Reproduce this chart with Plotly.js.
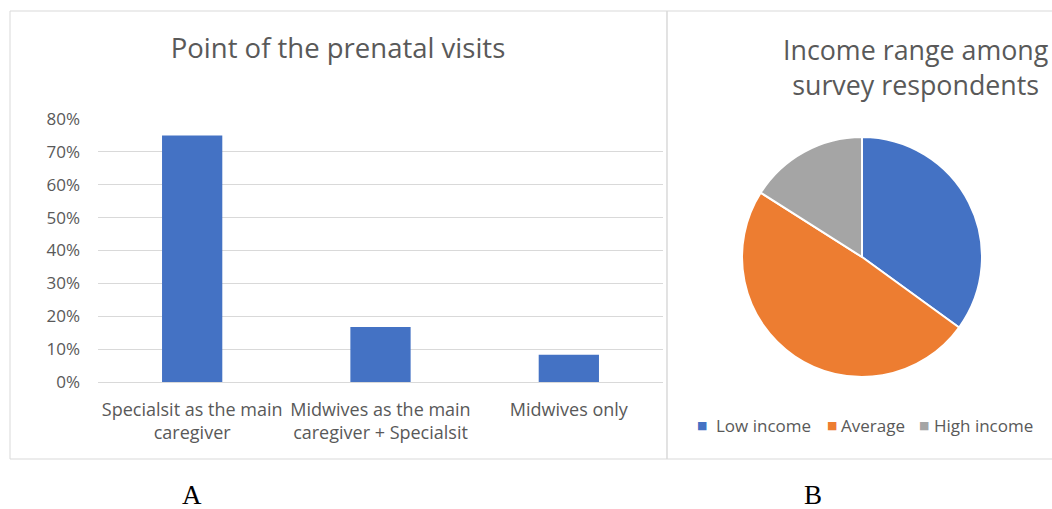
<!DOCTYPE html>
<html>
<head>
<meta charset="utf-8">
<script src="https://cdn.plot.ly/plotly-3.0.1.min.js"></script>
<style>
  html, body { margin: 0; padding: 0; background: #ffffff; overflow: hidden; }
  #chart { width: 1052px; height: 509px; overflow: hidden; }
</style>
</head>
<body>
<div id="chart"></div>
<script>
// ---- Data ----
const barCategories = [
  "Specialsit as the main<br>caregiver",
  "Midwives as the main<br>caregiver + Specialsit",
  "Midwives only"
];
const barValues = [0.75, 0.167, 0.083];
const barTitle = "Point of the prenatal visits";

const pieLabels = ["Low income", "Average", "High income"];
const pieValues = [35, 49, 16];
const pieColors = ["#4472C4", "#ED7D31", "#A5A5A5"];
const pieTitle = "Income range among<br>survey respondents";

const panelLabels = ["A", "B"];

// ---- Layout helpers (pixel -> paper) ----
const W = 1052, H = 509;
const px = v => v / W;
const py = v => 1 - v / H;

const font = "Open Sans, sans-serif";
const grey = "#595959";

// legend entry positions (layout only)
const legendSwatchX = [702, 832, 924];
const legendTextX = [714, 839, 932];
const legendY = 425;

const barTrace = {
  type: "bar",
  x: barCategories,
  y: barValues,
  marker: { color: "#4472C4" },
  showlegend: false,
  hoverinfo: "x+y",
  xaxis: "x",
  yaxis: "y"
};

const pieTrace = {
  type: "pie",
  labels: pieLabels,
  values: pieValues,
  marker: { colors: pieColors, line: { color: "#ffffff", width: 2 } },
  sort: false,
  direction: "clockwise",
  rotation: 0,
  textinfo: "none",
  domain: { x: [px(742), px(982)], y: [py(377), py(137)] },
  showlegend: false
};

const annotations = [
  {
    text: pieTitle,
    xref: "paper", yref: "paper",
    x: px(916), y: py(67),
    xanchor: "center", yanchor: "middle",
    showarrow: false,
    font: { family: font, size: 26.8, color: grey }
  },
  {
    text: panelLabels[0],
    xref: "paper", yref: "paper",
    x: px(192), y: py(495),
    xanchor: "center", yanchor: "middle",
    showarrow: false,
    font: { family: "Liberation Serif, serif", size: 27, color: "#000000" }
  },
  {
    text: panelLabels[1],
    xref: "paper", yref: "paper",
    x: px(813), y: py(495),
    xanchor: "center", yanchor: "middle",
    showarrow: false,
    font: { family: "Liberation Serif, serif", size: 27, color: "#000000" }
  }
];

// legend for the pie, built from its labels and colours
pieLabels.forEach((lab, i) => {
  annotations.push({
    text: "■",
    xref: "paper", yref: "paper",
    x: px(legendSwatchX[i]), y: py(legendY),
    xanchor: "center", yanchor: "middle",
    showarrow: false,
    font: { family: "DejaVu Sans, sans-serif", size: 11, color: pieColors[i] }
  });
  annotations.push({
    text: lab,
    xref: "paper", yref: "paper",
    x: px(legendTextX[i]), y: py(legendY),
    xanchor: "left", yanchor: "middle",
    showarrow: false,
    font: { family: font, size: 17, color: grey }
  });
});

const layout = {
  width: W,
  height: H,
  margin: { l: 0, r: 0, t: 0, b: 0, autoexpand: false },
  paper_bgcolor: "#ffffff",
  plot_bgcolor: "#ffffff",
  font: { family: font, color: grey },
  showlegend: false,
  bargap: 0.68,
  xaxis: {
    domain: [px(98), px(663)],
    type: "category",
    showgrid: false,
    showline: false,
    zeroline: false,
    ticks: "",
    ticklabelstandoff: 15,
    tickfont: { family: font, size: 18, color: grey },
    fixedrange: true
  },
  yaxis: {
    domain: [py(382), py(119)],
    range: [0, 0.8],
    dtick: 0.1,
    tick0: 0,
    tickformat: ".0%",
    showgrid: true,
    gridcolor: "#D9D9D9",
    gridwidth: 1,
    zeroline: true,
    zerolinecolor: "#D9D9D9",
    zerolinewidth: 1,
    showline: false,
    ticks: "",
    ticklabelstandoff: 17,
    tickfont: { family: font, size: 17, color: grey },
    fixedrange: true
  },
  title: {
    text: barTitle,
    font: { family: font, size: 27.5, color: grey },
    x: px(338),
    xanchor: "center",
    xref: "paper",
    y: py(48),
    yanchor: "middle",
    yref: "paper"
  },
  annotations: annotations,
  shapes: [
    { type: "rect", xref: "paper", yref: "paper",
      x0: px(10), x1: px(667), y0: py(459), y1: py(11),
      line: { color: "#D9D9D9", width: 1 }, fillcolor: "rgba(0,0,0,0)", layer: "below" },
    { type: "rect", xref: "paper", yref: "paper",
      x0: px(667), x1: px(1200), y0: py(459), y1: py(11),
      line: { color: "#D9D9D9", width: 1 }, fillcolor: "rgba(0,0,0,0)", layer: "below" }
  ]
};

Plotly.newPlot("chart", [barTrace, pieTrace], layout, { displayModeBar: false, staticPlot: true });
</script>
</body>
</html>
